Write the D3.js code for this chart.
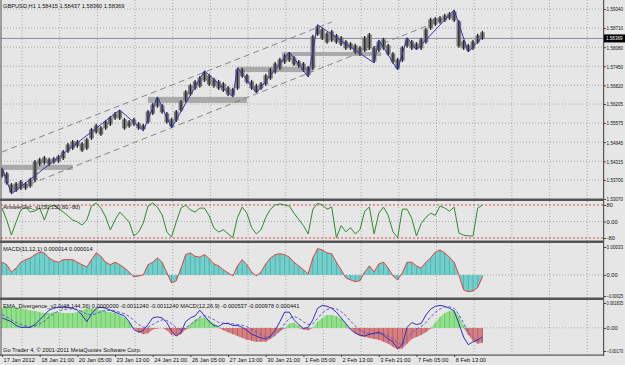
<!DOCTYPE html>
<html>
<head>
<meta charset="utf-8">
<script src="https://cdn.jsdelivr.net/npm/d3@7"></script>
<style>
  body { margin: 0; background: #e6e6e6; }
  svg { display: block; }
  text { font-family: "Liberation Sans", Arial, sans-serif; font-size: 5.7px; fill: #111; }
</style>
</head>
<body>
<svg id="chart" width="625" height="365"></svg>
<script>
// ---- data (one bar = 4 hours) ----
const priceTicks = [1.59340, 1.58710, 1.58080, 1.57450, 1.56820, 1.56205, 1.55575, 1.54945, 1.54315, 1.53700, 1.53070];
const timeLabels = ["17 Jan 2012", "18 Jan 21:00", "20 Jan 05:00", "23 Jan 13:00", "24 Jan 21:00", "26 Jan 05:00",
  "27 Jan 13:00", "30 Jan 21:00", "1 Feb 05:00", "2 Feb 13:00", "3 Feb 21:00", "7 Feb 05:00", "8 Feb 13:00"];
const oscTicks = [80, 0, -80];
const macdTicks = [0.00033, 0, -0.00025];
const divTicks = [0.001835, 0, -0.00170];
const lastPrice = 1.58369;

const hi = [1.5410,1.5396,1.5360,1.5363,1.5370,1.5363,1.5377,1.5436,1.5443,1.5449,
  1.5443,1.5446,1.5453,1.5469,1.5492,1.5502,1.5502,1.5495,1.5509,1.5542,
  1.5555,1.5548,1.5568,1.5581,1.5594,1.5601,1.5575,1.5568,1.5575,1.5561,
  1.5555,1.5601,1.5624,1.5644,1.5621,1.5594,1.5575,1.5601,1.5634,1.5667,
  1.5687,1.5700,1.5713,1.5730,1.5720,1.5707,1.5700,1.5693,1.5680,1.5674,
  1.5740,1.5740,1.5720,1.5700,1.5687,1.5693,1.5720,1.5740,1.5759,1.5773,
  1.5786,1.5792,1.5779,1.5766,1.5759,1.5746,1.5849,1.5882,1.5872,1.5858,
  1.5865,1.5852,1.5845,1.5832,1.5825,1.5819,1.5812,1.5845,1.5855,1.5812,
  1.5832,1.5839,1.5819,1.5792,1.5773,1.5812,1.5839,1.5832,1.5825,1.5839,
  1.5872,1.5905,1.5908,1.5911,1.5918,1.5924,1.5931,1.5898,1.5832,1.5819,
  1.5832,1.5852,1.5862];
const lo = [1.5377,1.5354,1.5324,1.5330,1.5337,1.5337,1.5344,1.5363,1.5416,1.5420,
  1.5416,1.5423,1.5426,1.5436,1.5459,1.5469,1.5476,1.5462,1.5469,1.5502,
  1.5522,1.5515,1.5535,1.5548,1.5568,1.5568,1.5535,1.5542,1.5548,1.5535,
  1.5532,1.5555,1.5584,1.5608,1.5588,1.5555,1.5542,1.5561,1.5594,1.5627,
  1.5647,1.5667,1.5674,1.5693,1.5680,1.5674,1.5667,1.5660,1.5647,1.5644,
  1.5667,1.5707,1.5687,1.5667,1.5657,1.5667,1.5680,1.5700,1.5720,1.5733,
  1.5753,1.5759,1.5746,1.5740,1.5726,1.5710,1.5733,1.5845,1.5832,1.5819,
  1.5825,1.5819,1.5812,1.5799,1.5799,1.5786,1.5779,1.5792,1.5799,1.5756,
  1.5792,1.5799,1.5779,1.5753,1.5733,1.5759,1.5806,1.5799,1.5799,1.5799,
  1.5819,1.5865,1.5878,1.5885,1.5891,1.5898,1.5891,1.5806,1.5799,1.5792,
  1.5799,1.5819,1.5832];

// zigzag turning points [bar, price]
const zigzag = [[0,1.5410],[2,1.5324],[25,1.5601],[30,1.5532],[33,1.5644],[36,1.5542],[43,1.5730],
  [49,1.5644],[50,1.5740],[54,1.5657],[61,1.5792],[65,1.5710],[67,1.5882],[79,1.5756],[80,1.5832],
  [84,1.5733],[86,1.5839],[88,1.5799],[96,1.5931],[99,1.5792],[102,1.5842]];
const channelUpper = [[0,1.5462],[70,1.5891]];
const channelLower = [[4,1.5344],[96,1.5914]];
// zones [fromBar, toBar, top, bottom]
const zones = [[0,15,1.5420,1.5403],[31,52,1.5644,1.5624],[50,66,1.5743,1.5726],[59.5,80.5,1.5792,1.5779]];

const osc = [65,7,-66,-2,56,70,46,51,65,7,
  70,80,61,46,27,7,-2,-17,7,75,
  90,65,22,-41,7,46,22,-2,-70,-51,
  -7,75,90,70,32,-51,-75,-2,65,80,
  56,46,65,65,27,-32,-51,-40,-60,-78,
  20,70,40,-30,-60,-40,20,60,80,85,
  80,75,40,10,-20,-60,60,88,80,60,
  70,-78,-20,-50,-30,-60,-40,50,70,-60,
  40,70,30,-50,-78,60,60,15,-70,-10,
  20,40,30,75,65,50,70,-56,-66,-70,
  -70,65,80];

const macd = [15e-5,12e-5,3.5e-5,8e-5,15e-5,18e-5,20e-5,24e-5,27e-5,26e-5,
  20e-5,16.5e-5,15e-5,18e-5,18e-5,18e-5,15e-5,12e-5,9.4e-5,18e-5,
  26e-5,22e-5,15e-5,12e-5,15e-5,12e-5,8e-5,3.5e-5,-2.4e-5,-1.2e-5,
  0,12e-5,15e-5,20e-5,15e-5,2.4e-5,-9.4e-5,-7e-5,8e-5,24e-5,
  26e-5,22e-5,21e-5,24e-5,19e-5,13e-5,10.6e-5,6e-5,2.4e-5,-1.2e-5,
  10.6e-5,18e-5,12e-5,3.5e-5,-1.2e-5,3.5e-5,13e-5,20e-5,24e-5,25e-5,
  24e-5,21e-5,15e-5,10.6e-5,6e-5,1.2e-5,20e-5,31e-5,29.5e-5,26e-5,
  25e-5,15e-5,6e-5,-3.5e-5,-6e-5,-8e-5,-7e-5,3.5e-5,10.6e-5,3.5e-5,
  13e-5,15e-5,8e-5,-1.2e-5,-6e-5,2.4e-5,15e-5,15e-5,10.6e-5,8e-5,
  15e-5,20e-5,27e-5,29.5e-5,26e-5,21e-5,15e-5,0,-17.7e-5,-20e-5,
  -19e-5,-15e-5,-2.4e-5];

const divHist = [14.5e-4,15.2e-4,15.2e-4,15.2e-4,14.5e-4,13.8e-4,13.1e-4,12.4e-4,11.6e-4,10.9e-4,
  10.9e-4,11.6e-4,11.6e-4,10.9e-4,10.9e-4,10.9e-4,11.6e-4,13.1e-4,14.5e-4,14.5e-4,
  13.8e-4,13.1e-4,12.4e-4,11.6e-4,10.9e-4,9.5e-4,7.4e-4,4.6e-4,0,-3.2e-4,
  -4.6e-4,-3.9e-4,-1.1e-4,-0.4e-4,0,-1.8e-4,-5.3e-4,-6.0e-4,-4.6e-4,-1.1e-4,
  2.5e-4,6.0e-4,7.4e-4,7.4e-4,6.0e-4,3.2e-4,0.4e-4,-1.8e-4,-3.2e-4,-4.6e-4,
  -6.0e-4,-7.4e-4,-8.8e-4,-9.5e-4,-10.2e-4,-10.2e-4,-10.2e-4,-8.1e-4,-5.3e-4,-2.5e-4,
  -0.4e-4,3.2e-4,3.9e-4,1.8e-4,-1.1e-4,-1.8e-4,0.4e-4,4.6e-4,7.4e-4,9.5e-4,
  9.5e-4,8.8e-4,6.7e-4,3.2e-4,-0.4e-4,-3.9e-4,-6.0e-4,-6.7e-4,-7.4e-4,-8.1e-4,
  -8.8e-4,-10.2e-4,-11.6e-4,-13.8e-4,-15.9e-4,-15.2e-4,-11.6e-4,-8.1e-4,-6.7e-4,-5.3e-4,
  -3.2e-4,-0.4e-4,3.9e-4,8.1e-4,10.9e-4,12.4e-4,13.1e-4,8.8e-4,1.8e-4,-5.3e-4,
  -9.5e-4,-11.6e-4,-10.9e-4];
const divFast = [7.4e-4,6.0e-4,4.6e-4,1.8e-4,0.4e-4,0.4e-4,0.4e-4,2.5e-4,6.0e-4,9.5e-4,
  13.1e-4,14.5e-4,15.2e-4,15.2e-4,15.2e-4,14.5e-4,13.1e-4,9.5e-4,4.6e-4,10.2e-4,
  14.5e-4,15.2e-4,14.5e-4,13.1e-4,11.6e-4,10.2e-4,8.8e-4,4.6e-4,-1.1e-4,-3.2e-4,
  -1.8e-4,2.5e-4,7.4e-4,8.1e-4,7.4e-4,3.9e-4,-2.5e-4,-6.0e-4,-3.2e-4,4.6e-4,
  7.4e-4,8.8e-4,13.1e-4,8.8e-4,4.6e-4,1.8e-4,1.1e-4,3.2e-4,3.2e-4,1.8e-4,
  1.8e-4,0.4e-4,-1.8e-4,-4.6e-4,-6.0e-4,-7.4e-4,-8.1e-4,-6.0e-4,-1.8e-4,4.6e-4,
  11.6e-4,11.6e-4,6.0e-4,2.5e-4,-0.4e-4,0.4e-4,6.0e-4,14.5e-4,16.6e-4,15.9e-4,
  14.5e-4,11.6e-4,7.4e-4,3.2e-4,-1.1e-4,-3.9e-4,-5.3e-4,-6.0e-4,-4.6e-4,-3.9e-4,
  -3.2e-4,-5.3e-4,-8.1e-4,-10.2e-4,-15.2e-4,-12.4e-4,0.4e-4,3.9e-4,2.5e-4,3.2e-4,
  9.5e-4,13.8e-4,15.9e-4,16.6e-4,15.9e-4,14.5e-4,12.4e-4,3.2e-4,-6.7e-4,-12.4e-4,
  -10.2e-4,-8.8e-4,-6.7e-4];
const divSlow = [10e-4,8e-4,6e-4,4e-4,2.5e-4,1.5e-4,1e-4,1.5e-4,3e-4,5e-4,
  8e-4,10.5e-4,12.5e-4,13.5e-4,14e-4,14e-4,13.5e-4,12e-4,10e-4,9.5e-4,
  10.5e-4,12e-4,13e-4,13e-4,12.5e-4,11.5e-4,10.5e-4,8.5e-4,5.5e-4,2.5e-4,
  0.5e-4,0.5e-4,2.5e-4,4.5e-4,6e-4,5.5e-4,3e-4,0,-1.5e-4,0,
  2.5e-4,5e-4,8e-4,9e-4,8e-4,6e-4,4e-4,3.5e-4,3.5e-4,3e-4,
  2.5e-4,2e-4,1e-4,-1e-4,-3e-4,-5e-4,-6.5e-4,-7e-4,-5.5e-4,-2e-4,
  3e-4,7e-4,8.5e-4,7e-4,4.5e-4,2.5e-4,3e-4,7e-4,11e-4,13.5e-4,
  14.5e-4,14e-4,12e-4,9e-4,5e-4,1.5e-4,-1.5e-4,-3.5e-4,-4.5e-4,-4.5e-4,
  -4e-4,-4.5e-4,-6e-4,-8e-4,-11e-4,-12.5e-4,-8e-4,-3.5e-4,-1e-4,1e-4,
  4e-4,8e-4,11.5e-4,14e-4,15.5e-4,15.5e-4,14.5e-4,10e-4,3.5e-4,-3e-4,
  -7e-4,-9e-4,-8.5e-4];

// ---- layout ----
const W = 625, H = 365, axisX = 603;
const panels = {
  main: { top: 0, bottom: 199 },
  osc: { top: 201, bottom: 241 },
  macd: { top: 243, bottom: 298 },
  div: { top: 300, bottom: 355 }
};

const svg = d3.select('#chart');
svg.append('rect').attr('width', W).attr('height', H).attr('fill', '#e6e6e6');

const x = d3.scaleLinear().domain([0, 127.6]).range([2, axisX]);
const yMain = d3.scaleLinear().domain([1.5307, 1.5934]).range([199, 9]);
const yOsc = d3.scaleLinear().domain([-80, 80]).range([238, 205]);
const yMacd = d3.scaleLinear().domain([-0.00025, 0.00033]).range([296, 247]);
const yDiv = d3.scaleLinear().domain([-0.0017, 0.001835]).range([351, 303]);

const defs = svg.append('defs');
Object.entries(panels).forEach(([k, p]) => {
  defs.append('clipPath').attr('id', 'clip-' + k)
    .append('rect').attr('x', 1).attr('y', p.top).attr('width', axisX - 1).attr('height', p.bottom - p.top);
});

// grid
const grid = svg.append('g').attr('stroke', '#9a9a9a').attr('stroke-dasharray', '1,2').attr('stroke-width', 0.8);
const gridBars = d3.range(16).map(k => k * 8 + 4.25);
Object.values(panels).forEach(p => {
  grid.selectAll(null).data(gridBars).enter().append('line')
    .attr('x1', d => x(d)).attr('x2', d => x(d)).attr('y1', p.top).attr('y2', p.bottom);
});
grid.selectAll(null).data(priceTicks.slice(0, -1)).enter().append('line')
  .attr('x1', 1).attr('x2', axisX).attr('y1', d => yMain(d)).attr('y2', d => yMain(d));
[[yOsc, 0], [yMacd, 0], [yDiv, 0]].forEach(([s, v]) => {
  grid.append('line').attr('x1', 1).attr('x2', axisX).attr('y1', s(v)).attr('y2', s(v));
});

// ---- main panel ----
const gMain = svg.append('g').attr('clip-path', 'url(#clip-main)');

gMain.selectAll('.zone').data(zones).enter().append('rect')
  .attr('x', d => x(d[0])).attr('width', d => x(d[1]) - x(d[0]))
  .attr('y', d => yMain(d[2])).attr('height', d => yMain(d[3]) - yMain(d[2]))
  .attr('fill', '#a9a9a9');

[channelUpper, channelLower].forEach(c => {
  gMain.append('line')
    .attr('x1', x(c[0][0])).attr('y1', yMain(c[0][1]))
    .attr('x2', x(c[1][0])).attr('y2', yMain(c[1][1]))
    .attr('stroke', '#7a7a7a').attr('stroke-dasharray', '6,4').attr('stroke-width', 0.9);
});

gMain.append('line').attr('x1', 1).attr('x2', axisX)
  .attr('y1', yMain(lastPrice)).attr('y2', yMain(lastPrice))
  .attr('stroke', '#8c8c9c').attr('stroke-width', 1);

// soft body that touches its neighbours + thin dark core, reads as a dense H1 strip
const step = x(1) - x(0);
gMain.selectAll('.barBody').data(hi).enter().append('line')
  .attr('x1', (d, i) => x(i)).attr('x2', (d, i) => x(i))
  .attr('y1', d => yMain(d) + 1.5).attr('y2', (d, i) => yMain(lo[i]) - 1.5)
  .attr('stroke', '#7d7d7d').attr('stroke-width', step);
gMain.selectAll('.barCore').data(hi).enter().append('line')
  .attr('x1', (d, i) => x(i)).attr('x2', (d, i) => x(i))
  .attr('y1', d => yMain(d)).attr('y2', (d, i) => yMain(lo[i]))
  .attr('stroke', '#2a2a2a').attr('stroke-width', 1.3);

gMain.append('path').datum(zigzag)
  .attr('d', d3.line().x(d => x(d[0])).y(d => yMain(d[1])))
  .attr('fill', 'none').attr('stroke', '#3535b0').attr('stroke-width', 1);

// ---- oscillator ----
const gOsc = svg.append('g').attr('clip-path', 'url(#clip-osc)');
[80, -80].forEach(v => {
  gOsc.append('line').attr('x1', 1).attr('x2', axisX).attr('y1', yOsc(v)).attr('y2', yOsc(v))
    .attr('stroke', '#e04848').attr('stroke-dasharray', '2,2').attr('stroke-width', 1);
});
gOsc.append('path').datum(osc)
  .attr('d', d3.line().x((d, i) => x(i)).y(d => yOsc(d)))
  .attr('fill', 'none').attr('stroke', '#2f8a2f').attr('stroke-width', 1);

// ---- MACD ----
const gMacd = svg.append('g').attr('clip-path', 'url(#clip-macd)');
gMacd.append('path').datum(macd)
  .attr('d', d3.area().x((d, i) => x(i)).y0(yMacd(0)).y1(d => yMacd(d)))
  .attr('fill', '#74cfcb');
gMacd.selectAll('.stripe').data(macd).enter().append('line')
  .attr('x1', (d, i) => x(i)).attr('x2', (d, i) => x(i))
  .attr('y1', yMacd(0)).attr('y2', d => yMacd(d))
  .attr('stroke', '#4fb4b0').attr('stroke-width', 1);
gMacd.append('path').datum(macd)
  .attr('d', d3.line().x((d, i) => x(i)).y(d => yMacd(d)))
  .attr('fill', 'none').attr('stroke', '#e84040').attr('stroke-width', 1);

// ---- EMA divergence ----
const gDiv = svg.append('g').attr('clip-path', 'url(#clip-div)');
gDiv.append('path').datum(divHist)
  .attr('d', d3.area().x((d, i) => x(i)).y0(yDiv(0)).y1(d => yDiv(Math.max(d, 0))))
  .attr('fill', '#92e08c');
gDiv.append('path').datum(divHist)
  .attr('d', d3.area().x((d, i) => x(i)).y0(yDiv(0)).y1(d => yDiv(Math.min(d, 0))))
  .attr('fill', '#d48080');
gDiv.selectAll('.stripe').data(divHist).enter().append('line')
  .attr('x1', (d, i) => x(i)).attr('x2', (d, i) => x(i))
  .attr('y1', yDiv(0)).attr('y2', d => yDiv(d))
  .attr('stroke', d => d >= 0 ? '#70c86a' : '#bd5f5f').attr('stroke-width', 1);
gDiv.append('path').datum(divSlow)
  .attr('d', d3.line().x((d, i) => x(i)).y(d => yDiv(d)))
  .attr('fill', 'none').attr('stroke', '#5a5ad8').attr('stroke-width', 1).attr('stroke-dasharray', '3,2');
gDiv.append('path').datum(divFast)
  .attr('d', d3.line().x((d, i) => x(i)).y(d => yDiv(d)))
  .attr('fill', 'none').attr('stroke', '#3030c0').attr('stroke-width', 1);

// ---- frame ----
const frame = svg.append('g').attr('fill', '#555');
[panels.main.bottom, panels.osc.bottom, panels.macd.bottom].forEach(yy => {
  frame.append('rect').attr('x', 0).attr('y', yy - 0.5).attr('width', axisX).attr('height', 2.5);
});
frame.append('rect').attr('x', 0).attr('y', 354.5).attr('width', axisX + 1).attr('height', 1.2);
frame.append('rect').attr('x', 0.5).attr('y', 0).attr('width', 1).attr('height', 356);
frame.append('rect').attr('x', axisX).attr('y', 0).attr('width', 1.2).attr('height', 356);

// ---- axes ----
const maxLabel = 16.5;
function squeeze(sel) {
  sel.each(function () {
    const w = this.getComputedTextLength();
    if (w > maxLabel) d3.select(this).attr('textLength', maxLabel).attr('lengthAdjust', 'spacingAndGlyphs');
  });
}
function rightAxis(scale, ticks, fmt) {
  const g = svg.append('g').attr('transform', `translate(${axisX + 1},0)`)
    .call(d3.axisRight(scale).tickValues(ticks).tickSize(2).tickPadding(0.6).tickFormat(fmt));
  g.select('.domain').remove();
  g.selectAll('line').attr('stroke', '#444');
  g.selectAll('text').attr('font-size', 4.5).attr('font-family', '"Liberation Sans", Arial, sans-serif').attr('fill', '#111');
  squeeze(g.selectAll('text'));
  return g;
}
rightAxis(yMain, priceTicks, d3.format('.5f'));
rightAxis(yOsc, oscTicks, d => d === 0 ? '0.00' : String(d));
rightAxis(yMacd, macdTicks, d => d === 0 ? '0.00' : d3.format('.5f')(d));
rightAxis(yDiv, divTicks, d => d === 0 ? '0.00' : (d > 0 ? d3.format('.6f')(d) : d3.format('.5f')(d)));

const lp = svg.append('g').attr('transform', `translate(${axisX + 1},${yMain(lastPrice)})`);
lp.append('rect').attr('x', 0).attr('y', -4).attr('width', 21).attr('height', 8).attr('fill', '#000');
lp.append('text').attr('x', 2).attr('y', 1.7).attr('font-size', 4.5).style('fill', '#fff')
  .text(d3.format('.5f')(lastPrice)).call(squeeze);

const tAxis = svg.append('g').attr('transform', `translate(0,${panels.div.bottom})`)
  .call(d3.axisBottom(x).tickValues(d3.range(timeLabels.length).map(k => k * 8))
    .tickSize(2).tickFormat((d, i) => timeLabels[i]));
tAxis.select('.domain').remove();
tAxis.selectAll('line').attr('stroke', '#444');
tAxis.selectAll('text').attr('text-anchor', 'start').attr('y', 3).attr('dx', 1)
  .attr('font-size', 5.7).attr('font-family', '"Liberation Sans", Arial, sans-serif').attr('fill', '#111');

// ---- captions ----
const cap = (tx, ty, s) => svg.append('text').attr('x', tx).attr('y', ty).text(s);
cap(3, 8, 'GBPUSD,H1  1.58415 1.58437 1.58360 1.58369');
cap(3, 209, 'AnswerOsc_v1(50,150,80,-80)');
cap(3, 251, 'MACD(11,12,1) 0.000014 0.000014');
cap(3, 308, 'EMA_Divergence_v2.0(48,144,36) 0.0000000 -0.0011240 -0.0011240  MACD(12,26,9) -0.000537 -0.000978 0.000441');
cap(3, 352, 'Go Trader 4, \u00a9 2001-2011 MetaQuotes Software Corp.');
</script>
</body>
</html>
